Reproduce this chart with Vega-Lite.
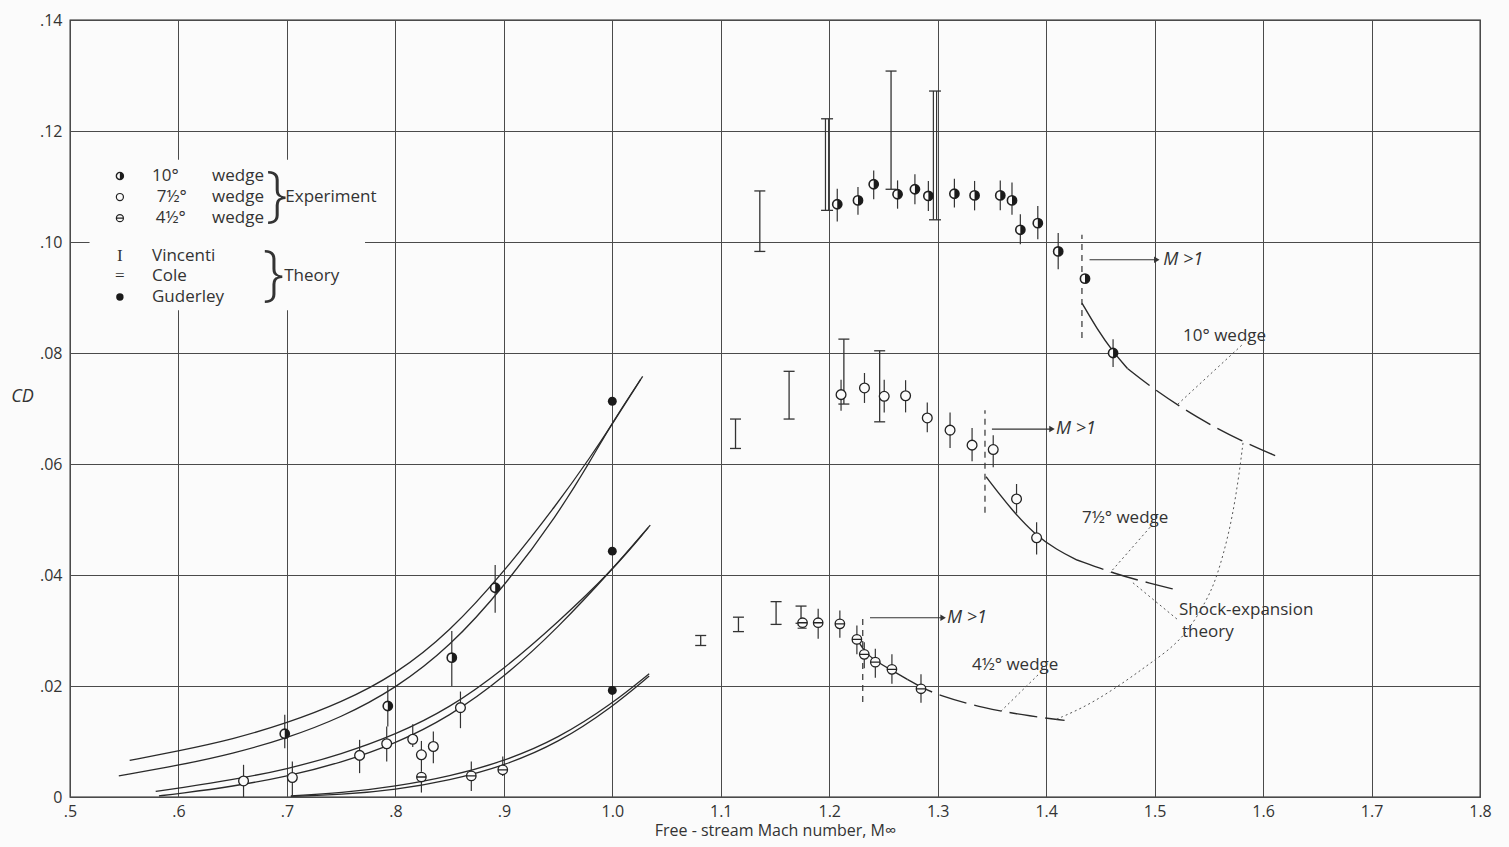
{
  "$schema": "https://vega.github.io/schema/vega-lite/v6.json",
  "width": 1410,
  "height": 777,
  "autosize": "none",
  "padding": {"left": 70, "top": 20, "right": 29, "bottom": 50},
  "background": "#fbfbfb",
  "config": {
    "view": {"stroke": "#222", "strokeWidth": 1.3},
    "font": "Open Sans",
    "axis": {
      "gridColor": "#4a4a4a", "gridWidth": 1, "gridOpacity": 1,
      "domain": false, "ticks": false,
      "labelFont": "Open Sans", "labelFontSize": 16, "labelColor": "#333",
      "titleFont": "Open Sans", "titleColor": "#333", "titleFontWeight": "normal",
      "labelFlush": false, "labelOverlap": false
    }
  },
  "datasets": {
    "legendbox": [{"x1": 0.518, "x2": 0.772, "y1": 0.0877, "y2": 0.1148}],
    "exp": [
      {"w": "10", "M": 0.698, "cd": 0.0114, "lo": 0.0088, "hi": 0.0148},
      {"w": "10", "M": 0.793, "cd": 0.0164, "lo": 0.0127, "hi": 0.0201},
      {"w": "10", "M": 0.852, "cd": 0.0251, "lo": 0.0200, "hi": 0.0299},
      {"w": "10", "M": 0.892, "cd": 0.0377, "lo": 0.0332, "hi": 0.0418},
      {"w": "10", "M": 1.2074, "cd": 0.1068, "lo": 0.1037, "hi": 0.1096},
      {"w": "10", "M": 1.2265, "cd": 0.1075, "lo": 0.1049, "hi": 0.1099},
      {"w": "10", "M": 1.2410, "cd": 0.1104, "lo": 0.1077, "hi": 0.1129},
      {"w": "10", "M": 1.2630, "cd": 0.1086, "lo": 0.1060, "hi": 0.1111},
      {"w": "10", "M": 1.2790, "cd": 0.1095, "lo": 0.1068, "hi": 0.1122},
      {"w": "10", "M": 1.2914, "cd": 0.1083, "lo": 0.1056, "hi": 0.1110},
      {"w": "10", "M": 1.3154, "cd": 0.1087, "lo": 0.1062, "hi": 0.1114},
      {"w": "10", "M": 1.3340, "cd": 0.1084, "lo": 0.1057, "hi": 0.1110},
      {"w": "10", "M": 1.3577, "cd": 0.1084, "lo": 0.1057, "hi": 0.1111},
      {"w": "10", "M": 1.3685, "cd": 0.1075, "lo": 0.1049, "hi": 0.1107},
      {"w": "10", "M": 1.3762, "cd": 0.1022, "lo": 0.0996, "hi": 0.1050},
      {"w": "10", "M": 1.3923, "cd": 0.1034, "lo": 0.1005, "hi": 0.1065},
      {"w": "10", "M": 1.4111, "cd": 0.0983, "lo": 0.0951, "hi": 0.1016},
      {"w": "10", "M": 1.4358, "cd": 0.0934, "lo": null, "hi": null},
      {"w": "10", "M": 1.4617, "cd": 0.0800, "lo": 0.0775, "hi": 0.0825},
      {"w": "7.5", "M": 0.660, "cd": 0.0029, "lo": 0.0, "hi": 0.0058},
      {"w": "7.5", "M": 0.705, "cd": 0.0035, "lo": 0.0, "hi": 0.0064},
      {"w": "7.5", "M": 0.767, "cd": 0.0075, "lo": 0.0043, "hi": 0.0103},
      {"w": "7.5", "M": 0.792, "cd": 0.0096, "lo": 0.0064, "hi": 0.0127},
      {"w": "7.5", "M": 0.816, "cd": 0.0104, "lo": 0.0090, "hi": 0.0131},
      {"w": "7.5", "M": 0.824, "cd": 0.0076, "lo": 0.0046, "hi": 0.0101},
      {"w": "7.5", "M": 0.835, "cd": 0.0091, "lo": 0.0061, "hi": 0.0118},
      {"w": "7.5", "M": 0.860, "cd": 0.0161, "lo": 0.0124, "hi": 0.0190},
      {"w": "7.5", "M": 1.2109, "cd": 0.0725, "lo": 0.0696, "hi": 0.0752},
      {"w": "7.5", "M": 1.2325, "cd": 0.0737, "lo": 0.0710, "hi": 0.0764},
      {"w": "7.5", "M": 1.2507, "cd": 0.0722, "lo": 0.0693, "hi": 0.0752},
      {"w": "7.5", "M": 1.2704, "cd": 0.0723, "lo": 0.0693, "hi": 0.0751},
      {"w": "7.5", "M": 1.2904, "cd": 0.0683, "lo": 0.0657, "hi": 0.0711},
      {"w": "7.5", "M": 1.3114, "cd": 0.0661, "lo": 0.0629, "hi": 0.0693},
      {"w": "7.5", "M": 1.3317, "cd": 0.0634, "lo": 0.0605, "hi": 0.0665},
      {"w": "7.5", "M": 1.3512, "cd": 0.0626, "lo": 0.0594, "hi": 0.0652},
      {"w": "7.5", "M": 1.3727, "cd": 0.0537, "lo": 0.0511, "hi": 0.0564},
      {"w": "7.5", "M": 1.3912, "cd": 0.0467, "lo": 0.0437, "hi": 0.0495},
      {"w": "4.5", "M": 0.824, "cd": 0.0036, "lo": 0.0008, "hi": 0.0046},
      {"w": "4.5", "M": 0.870, "cd": 0.0038, "lo": 0.0011, "hi": 0.0064},
      {"w": "4.5", "M": 0.899, "cd": 0.0049, "lo": 0.0038, "hi": 0.0073},
      {"w": "4.5", "M": 1.1754, "cd": 0.0314, "lo": null, "hi": null},
      {"w": "4.5", "M": 1.1898, "cd": 0.0314, "lo": 0.0285, "hi": 0.0339},
      {"w": "4.5", "M": 1.2098, "cd": 0.0312, "lo": 0.0287, "hi": 0.0336},
      {"w": "4.5", "M": 1.2255, "cd": 0.0284, "lo": 0.0257, "hi": 0.0309},
      {"w": "4.5", "M": 1.2323, "cd": 0.0257, "lo": 0.0232, "hi": 0.0279},
      {"w": "4.5", "M": 1.2425, "cd": 0.0243, "lo": 0.0215, "hi": 0.0267},
      {"w": "4.5", "M": 1.2578, "cd": 0.0230, "lo": 0.0204, "hi": 0.0257},
      {"w": "4.5", "M": 1.2846, "cd": 0.0195, "lo": 0.0170, "hi": 0.0221}
    ],
    "gud": [{"M": 1.0, "cd": 0.0713}, {"M": 1.0, "cd": 0.0443}, {"M": 1.0, "cd": 0.0192}],
    "vin": [
      {"M": 1.136, "lo": 0.0983, "hi": 0.1092},
      {"M": 1.257, "lo": 0.1095, "hi": 0.1308},
      {"M": 1.1136, "lo": 0.0628, "hi": 0.0681},
      {"M": 1.163, "lo": 0.0681, "hi": 0.0767},
      {"M": 1.2135, "lo": 0.0708, "hi": 0.0825},
      {"M": 1.2465, "lo": 0.0676, "hi": 0.0804},
      {"M": 1.0815, "lo": 0.0273, "hi": 0.0291},
      {"M": 1.1163, "lo": 0.0298, "hi": 0.0324},
      {"M": 1.151, "lo": 0.0311, "hi": 0.0352},
      {"M": 1.174, "lo": 0.0313, "hi": 0.0344}
    ],
    "cole": [
      {"M": 1.198, "lo": 0.1057, "hi": 0.1222},
      {"M": 1.2975, "lo": 0.1040, "hi": 0.1272}
    ],
    "colemark": [{"M": 1.175, "cd": 0.0307}],
    "curves": [
      {"id": "10a", "M": 0.555, "cd": 0.0066}, {"id": "10a", "M": 0.6, "cd": 0.0083}, {"id": "10a", "M": 0.65, "cd": 0.0104},
      {"id": "10a", "M": 0.7, "cd": 0.0133}, {"id": "10a", "M": 0.75, "cd": 0.0170}, {"id": "10a", "M": 0.8, "cd": 0.0220},
      {"id": "10a", "M": 0.85, "cd": 0.0297}, {"id": "10a", "M": 0.9, "cd": 0.0405}, {"id": "10a", "M": 0.95, "cd": 0.0530},
      {"id": "10a", "M": 0.98, "cd": 0.0613}, {"id": "10a", "M": 1.0, "cd": 0.0672}, {"id": "10a", "M": 1.026, "cd": 0.0752},
      {"id": "10b", "M": 0.545, "cd": 0.0038}, {"id": "10b", "M": 0.6, "cd": 0.0057}, {"id": "10b", "M": 0.65, "cd": 0.0078},
      {"id": "10b", "M": 0.7, "cd": 0.0106}, {"id": "10b", "M": 0.75, "cd": 0.0143}, {"id": "10b", "M": 0.8, "cd": 0.0195},
      {"id": "10b", "M": 0.85, "cd": 0.0270}, {"id": "10b", "M": 0.9, "cd": 0.0378}, {"id": "10b", "M": 0.95, "cd": 0.0510},
      {"id": "10b", "M": 0.98, "cd": 0.0606}, {"id": "10b", "M": 1.0, "cd": 0.0675}, {"id": "10b", "M": 1.028, "cd": 0.0758},
      {"id": "75a", "M": 0.579, "cd": 0.0010}, {"id": "75a", "M": 0.6, "cd": 0.0016}, {"id": "75a", "M": 0.65, "cd": 0.0031},
      {"id": "75a", "M": 0.7, "cd": 0.0050}, {"id": "75a", "M": 0.75, "cd": 0.0077}, {"id": "75a", "M": 0.8, "cd": 0.0112},
      {"id": "75a", "M": 0.85, "cd": 0.0160}, {"id": "75a", "M": 0.9, "cd": 0.0230}, {"id": "75a", "M": 0.95, "cd": 0.0315},
      {"id": "75a", "M": 1.0, "cd": 0.0408}, {"id": "75a", "M": 1.033, "cd": 0.0485},
      {"id": "75b", "M": 0.582, "cd": 0.0002}, {"id": "75b", "M": 0.6, "cd": 0.0006}, {"id": "75b", "M": 0.65, "cd": 0.0019},
      {"id": "75b", "M": 0.7, "cd": 0.0037}, {"id": "75b", "M": 0.75, "cd": 0.0062}, {"id": "75b", "M": 0.8, "cd": 0.0096},
      {"id": "75b", "M": 0.85, "cd": 0.0145}, {"id": "75b", "M": 0.9, "cd": 0.0215}, {"id": "75b", "M": 0.95, "cd": 0.0305},
      {"id": "75b", "M": 1.0, "cd": 0.0410}, {"id": "75b", "M": 1.035, "cd": 0.0490},
      {"id": "45a", "M": 0.7036, "cd": 0.0002}, {"id": "45a", "M": 0.75, "cd": 0.0007}, {"id": "45a", "M": 0.8, "cd": 0.0019},
      {"id": "45a", "M": 0.85, "cd": 0.0037}, {"id": "45a", "M": 0.9, "cd": 0.0064}, {"id": "45a", "M": 0.95, "cd": 0.0105},
      {"id": "45a", "M": 1.0, "cd": 0.0168}, {"id": "45a", "M": 1.034, "cd": 0.0222},
      {"id": "45b", "M": 0.7036, "cd": 0.0001}, {"id": "45b", "M": 0.75, "cd": 0.0004}, {"id": "45b", "M": 0.8, "cd": 0.0013},
      {"id": "45b", "M": 0.85, "cd": 0.0030}, {"id": "45b", "M": 0.9, "cd": 0.0056}, {"id": "45b", "M": 0.95, "cd": 0.0097},
      {"id": "45b", "M": 1.0, "cd": 0.0162}, {"id": "45b", "M": 1.034, "cd": 0.0218}
    ],
    "sesolid": [
      {"id": "10", "M": 1.433, "cd": 0.0890}, {"id": "10", "M": 1.447, "cd": 0.0843}, {"id": "10", "M": 1.4617, "cd": 0.0802}, {"id": "10", "M": 1.475, "cd": 0.0772},
      {"id": "75", "M": 1.3446, "cd": 0.0577}, {"id": "75", "M": 1.358, "cd": 0.0543}, {"id": "75", "M": 1.370, "cd": 0.0514}, {"id": "75", "M": 1.389, "cd": 0.0474}, {"id": "75", "M": 1.41, "cd": 0.0445}, {"id": "75", "M": 1.4285, "cd": 0.0427},
      {"id": "45", "M": 1.224, "cd": 0.0290}, {"id": "45", "M": 1.2323, "cd": 0.0262}, {"id": "45", "M": 1.2425, "cd": 0.0245}, {"id": "45", "M": 1.258, "cd": 0.0228}, {"id": "45", "M": 1.272, "cd": 0.0212}
    ],
    "sedash": [
      {"id": "10", "M": 1.475, "cd": 0.0772}, {"id": "10", "M": 1.4976, "cd": 0.0737}, {"id": "10", "M": 1.539, "cd": 0.0683}, {"id": "10", "M": 1.5815, "cd": 0.0640}, {"id": "10", "M": 1.6138, "cd": 0.0613},
      {"id": "75", "M": 1.4285, "cd": 0.0427}, {"id": "75", "M": 1.4653, "cd": 0.0401}, {"id": "75", "M": 1.49, "cd": 0.0388}, {"id": "75", "M": 1.5206, "cd": 0.0373},
      {"id": "45", "M": 1.272, "cd": 0.0212}, {"id": "45", "M": 1.2846, "cd": 0.0198}, {"id": "45", "M": 1.30, "cd": 0.0184}, {"id": "45", "M": 1.3415, "cd": 0.0160}, {"id": "45", "M": 1.3877, "cd": 0.0145}, {"id": "45", "M": 1.417, "cd": 0.0138}
    ],
    "leaders": [
      {"id": "L1", "o": 1, "M": 1.5803, "cd": 0.0814}, {"id": "L1", "o": 2, "M": 1.5204, "cd": 0.0706},
      {"id": "L2", "o": 1, "M": 1.4958, "cd": 0.0486}, {"id": "L2", "o": 2, "M": 1.4589, "cd": 0.0404},
      {"id": "L3", "o": 1, "M": 1.5815, "cd": 0.0638}, {"id": "L3", "o": 2, "M": 1.5769, "cd": 0.0566},
      {"id": "L3", "o": 3, "M": 1.5695, "cd": 0.0481}, {"id": "L3", "o": 4, "M": 1.5575, "cd": 0.0396},
      {"id": "L3", "o": 5, "M": 1.5483, "cd": 0.0355}, {"id": "L3", "o": 6, "M": 1.5262, "cd": 0.0283},
      {"id": "L3", "o": 7, "M": 1.4958, "cd": 0.0241}, {"id": "L3", "o": 8, "M": 1.4773, "cd": 0.0214},
      {"id": "L3", "o": 9, "M": 1.4404, "cd": 0.0166}, {"id": "L3", "o": 10, "M": 1.4082, "cd": 0.0139},
      {"id": "L4", "o": 1, "M": 1.480, "cd": 0.0386}, {"id": "L4", "o": 2, "M": 1.5216, "cd": 0.0319},
      {"id": "L5", "o": 1, "M": 1.3925, "cd": 0.0220}, {"id": "L5", "o": 2, "M": 1.3575, "cd": 0.0153}
    ],
    "mvert": [
      {"M": 1.433, "lo": 0.0827, "hi": 0.1013},
      {"M": 1.3436, "lo": 0.0512, "hi": 0.0697},
      {"M": 1.2309, "lo": 0.0171, "hi": 0.0328}
    ],
    "arrows": [
      {"x1": 1.440, "x2": 1.502, "cd": 0.0968, "tx": 1.508},
      {"x1": 1.350, "x2": 1.4054, "cd": 0.0663, "tx": 1.409},
      {"x1": 1.2376, "x2": 1.305, "cd": 0.0323, "tx": 1.3086}
    ],
    "labels": [
      {"text": "10°  wedge", "M": 1.5262, "cd": 0.0831},
      {"text": "7½° wedge", "M": 1.433, "cd": 0.0503},
      {"text": "4½° wedge", "M": 1.3316, "cd": 0.0238},
      {"text": "Shock-expansion", "M": 1.5225, "cd": 0.0337},
      {"text": "theory", "M": 1.5253, "cd": 0.0297}
    ],
    "legsym": [
      {"k": "10", "M": 0.546, "cd": 0.1119},
      {"k": "7.5", "M": 0.546, "cd": 0.1081},
      {"k": "4.5", "M": 0.546, "cd": 0.1043},
      {"k": "gud", "M": 0.546, "cd": 0.0901}
    ],
    "legtext": [
      {"text": "10°", "M": 0.5756, "cd": 0.1119},
      {"text": "7½°", "M": 0.5800, "cd": 0.1081},
      {"text": "4½°", "M": 0.5790, "cd": 0.1043},
      {"text": "wedge", "M": 0.631, "cd": 0.1119},
      {"text": "wedge", "M": 0.631, "cd": 0.1081},
      {"text": "wedge", "M": 0.631, "cd": 0.1043},
      {"text": "Experiment", "M": 0.6985, "cd": 0.1081},
      {"text": "Vincenti", "M": 0.5756, "cd": 0.0975},
      {"text": "Cole", "M": 0.5756, "cd": 0.0939},
      {"text": "Guderley", "M": 0.5756, "cd": 0.0901},
      {"text": "Theory", "M": 0.6975, "cd": 0.0939}
    ],
    "legglyph": [
      {"text": "I", "M": 0.546, "cd": 0.0975},
      {"text": "=", "M": 0.546, "cd": 0.0939}
    ],
    "braces": [
      {"M": 0.6905, "cd": 0.1081},
      {"M": 0.6875, "cd": 0.0939}
    ]
  },
  "layer": [
    {
      "data": {"name": "legendbox"},
      "mark": {"type": "rect", "fill": "#fbfbfb", "strokeWidth": 0},
      "encoding": {
        "x": {"field": "x1", "type": "quantitative",
          "scale": {"domain": [0.5, 1.8], "nice": false, "zero": false},
          "axis": {"values": [0.5, 0.6, 0.7, 0.8, 0.9, 1.0, 1.1, 1.2, 1.3, 1.4, 1.5, 1.6, 1.7, 1.8],
            "labelExpr": "datum.value < 0.95 ? replace(format(datum.value, '.1f'), '0.', '.') : format(datum.value, '.1f')",
            "title": "Free - stream Mach number, M∞", "titleFontSize": 16, "labelPadding": 6, "titlePadding": 3, "grid": true}},
        "x2": {"field": "x2"},
        "y": {"field": "y1", "type": "quantitative",
          "scale": {"domain": [0, 0.14], "nice": false, "zero": false},
          "axis": {"values": [0, 0.02, 0.04, 0.06, 0.08, 0.1, 0.12, 0.14],
            "labelExpr": "datum.value == 0 ? '0' : replace(format(datum.value, '.2f'), '0.', '.')",
            "title": "CD", "titleAngle": 0, "titleX": -48, "titleY": 385, "titleFontStyle": "italic", "titleFontSize": 18,
            "labelPadding": 8, "grid": true}},
        "y2": {"field": "y2"}
      }
    },
    {
      "data": {"name": "curves"},
      "mark": {"type": "line", "color": "#2a2a2a", "strokeWidth": 1.3, "interpolate": "basis"},
      "encoding": {"x": {"field": "M", "type": "quantitative"}, "y": {"field": "cd", "type": "quantitative"}, "detail": {"field": "id"}}
    },
    {
      "data": {"name": "sesolid"},
      "mark": {"type": "line", "color": "#2a2a2a", "strokeWidth": 1.4, "interpolate": "basis"},
      "encoding": {"x": {"field": "M", "type": "quantitative"}, "y": {"field": "cd", "type": "quantitative"}, "detail": {"field": "id"}}
    },
    {
      "data": {"name": "sedash"},
      "mark": {"type": "line", "color": "#2a2a2a", "strokeWidth": 1.4, "interpolate": "basis", "strokeDash": [28, 8]},
      "encoding": {"x": {"field": "M", "type": "quantitative"}, "y": {"field": "cd", "type": "quantitative"}, "detail": {"field": "id"}}
    },
    {
      "data": {"name": "leaders"},
      "mark": {"type": "line", "color": "#555", "strokeWidth": 1, "interpolate": "basis", "strokeDash": [2, 3]},
      "encoding": {"x": {"field": "M", "type": "quantitative"}, "y": {"field": "cd", "type": "quantitative"}, "detail": {"field": "id"}, "order": {"field": "o"}}
    },
    {
      "data": {"name": "mvert"},
      "mark": {"type": "rule", "color": "#333", "strokeWidth": 1.2, "strokeDash": [6, 5]},
      "encoding": {"x": {"field": "M", "type": "quantitative"}, "y": {"field": "lo", "type": "quantitative"}, "y2": {"field": "hi"}}
    },
    {
      "data": {"name": "arrows"},
      "mark": {"type": "rule", "color": "#333", "strokeWidth": 1.2},
      "encoding": {"x": {"field": "x1", "type": "quantitative"}, "x2": {"field": "x2"}, "y": {"field": "cd", "type": "quantitative"}}
    },
    {
      "data": {"name": "arrows"},
      "mark": {"type": "point", "shape": "triangle-right", "filled": true, "color": "#333", "size": 40, "opacity": 1},
      "encoding": {"x": {"field": "x2", "type": "quantitative"}, "y": {"field": "cd", "type": "quantitative"}}
    },
    {
      "data": {"name": "arrows"},
      "mark": {"type": "text", "text": "M >1", "align": "left", "baseline": "middle", "fontSize": 18, "fontStyle": "italic", "color": "#333"},
      "encoding": {"x": {"field": "tx", "type": "quantitative"}, "y": {"field": "cd", "type": "quantitative"}}
    },
    {
      "data": {"name": "exp"},
      "mark": {"type": "rule", "color": "#333", "strokeWidth": 1.2},
      "encoding": {"x": {"field": "M", "type": "quantitative"}, "y": {"field": "lo", "type": "quantitative"}, "y2": {"field": "hi"}}
    },
    {
      "data": {"name": "vin"},
      "mark": {"type": "rule", "color": "#333", "strokeWidth": 1.3},
      "encoding": {"x": {"field": "M", "type": "quantitative"}, "y": {"field": "lo", "type": "quantitative"}, "y2": {"field": "hi"}}
    },
    {
      "data": {"name": "vin"},
      "mark": {"type": "tick", "orient": "horizontal", "color": "#333", "size": 11, "thickness": 1.3, "opacity": 1},
      "encoding": {"x": {"field": "M", "type": "quantitative"}, "y": {"field": "lo", "type": "quantitative"}}
    },
    {
      "data": {"name": "vin"},
      "mark": {"type": "tick", "orient": "horizontal", "color": "#333", "size": 11, "thickness": 1.3, "opacity": 1},
      "encoding": {"x": {"field": "M", "type": "quantitative"}, "y": {"field": "hi", "type": "quantitative"}}
    },
    {
      "data": {"name": "cole"},
      "mark": {"type": "rule", "color": "#333", "strokeWidth": 1.2, "xOffset": -1.6},
      "encoding": {"x": {"field": "M", "type": "quantitative"}, "y": {"field": "lo", "type": "quantitative"}, "y2": {"field": "hi"}}
    },
    {
      "data": {"name": "cole"},
      "mark": {"type": "rule", "color": "#333", "strokeWidth": 1.2, "xOffset": 1.6},
      "encoding": {"x": {"field": "M", "type": "quantitative"}, "y": {"field": "lo", "type": "quantitative"}, "y2": {"field": "hi"}}
    },
    {
      "data": {"name": "cole"},
      "mark": {"type": "tick", "orient": "horizontal", "color": "#333", "size": 12, "thickness": 1.3, "opacity": 1},
      "encoding": {"x": {"field": "M", "type": "quantitative"}, "y": {"field": "lo", "type": "quantitative"}}
    },
    {
      "data": {"name": "cole"},
      "mark": {"type": "tick", "orient": "horizontal", "color": "#333", "size": 12, "thickness": 1.3, "opacity": 1},
      "encoding": {"x": {"field": "M", "type": "quantitative"}, "y": {"field": "hi", "type": "quantitative"}}
    },
    {
      "data": {"name": "colemark"},
      "mark": {"type": "tick", "orient": "horizontal", "color": "#333", "size": 9, "thickness": 1.1, "opacity": 1, "yOffset": -1.6},
      "encoding": {"x": {"field": "M", "type": "quantitative"}, "y": {"field": "cd", "type": "quantitative"}}
    },
    {
      "data": {"name": "colemark"},
      "mark": {"type": "tick", "orient": "horizontal", "color": "#333", "size": 9, "thickness": 1.1, "opacity": 1, "yOffset": 1.6},
      "encoding": {"x": {"field": "M", "type": "quantitative"}, "y": {"field": "cd", "type": "quantitative"}}
    },
    {
      "data": {"name": "exp"},
      "transform": [{"filter": "datum.w == '10'"}],
      "mark": {"type": "point", "shape": "circle", "filled": false, "fill": "#fbfbfb", "fillOpacity": 1, "stroke": "#222", "strokeWidth": 1.6, "size": 85, "opacity": 1},
      "encoding": {"x": {"field": "M", "type": "quantitative"}, "y": {"field": "cd", "type": "quantitative"}}
    },
    {
      "data": {"name": "exp"},
      "transform": [{"filter": "datum.w == '10'"}],
      "mark": {"type": "point", "shape": "M0,-1A1,1 0 0,1 0,1Z", "filled": true, "color": "#1a1a1a", "size": 85, "opacity": 1},
      "encoding": {"x": {"field": "M", "type": "quantitative"}, "y": {"field": "cd", "type": "quantitative"}}
    },
    {
      "data": {"name": "exp"},
      "transform": [{"filter": "datum.w == '7.5'"}],
      "mark": {"type": "point", "shape": "circle", "filled": false, "fill": "#fbfbfb", "fillOpacity": 1, "stroke": "#222", "strokeWidth": 1.3, "size": 95, "opacity": 1},
      "encoding": {"x": {"field": "M", "type": "quantitative"}, "y": {"field": "cd", "type": "quantitative"}}
    },
    {
      "data": {"name": "exp"},
      "transform": [{"filter": "datum.w == '4.5'"}],
      "mark": {"type": "point", "shape": "M-1,0A1,1 0 1,1 1,0A1,1 0 1,1 -1,0ZM-1,0L1,0", "filled": false, "fill": "#fbfbfb", "fillOpacity": 1, "stroke": "#222", "strokeWidth": 1.3, "size": 90, "opacity": 1},
      "encoding": {"x": {"field": "M", "type": "quantitative"}, "y": {"field": "cd", "type": "quantitative"}}
    },
    {
      "data": {"name": "gud"},
      "mark": {"type": "point", "shape": "circle", "filled": true, "color": "#1a1a1a", "size": 80, "opacity": 1},
      "encoding": {"x": {"field": "M", "type": "quantitative"}, "y": {"field": "cd", "type": "quantitative"}}
    },
    {
      "data": {"name": "labels"},
      "mark": {"type": "text", "align": "left", "baseline": "middle", "fontSize": 17, "color": "#333"},
      "encoding": {"x": {"field": "M", "type": "quantitative"}, "y": {"field": "cd", "type": "quantitative"}, "text": {"field": "text"}}
    },
    {
      "data": {"name": "legsym"},
      "transform": [{"filter": "datum.k == '10'"}],
      "mark": {"type": "point", "shape": "circle", "filled": false, "fill": "#fbfbfb", "fillOpacity": 1, "stroke": "#222", "strokeWidth": 1.4, "size": 50, "opacity": 1},
      "encoding": {"x": {"field": "M", "type": "quantitative"}, "y": {"field": "cd", "type": "quantitative"}}
    },
    {
      "data": {"name": "legsym"},
      "transform": [{"filter": "datum.k == '10'"}],
      "mark": {"type": "point", "shape": "M0,-1A1,1 0 0,1 0,1Z", "filled": true, "color": "#1a1a1a", "size": 50, "opacity": 1},
      "encoding": {"x": {"field": "M", "type": "quantitative"}, "y": {"field": "cd", "type": "quantitative"}}
    },
    {
      "data": {"name": "legsym"},
      "transform": [{"filter": "datum.k == '7.5'"}],
      "mark": {"type": "point", "shape": "circle", "filled": false, "stroke": "#222", "strokeWidth": 1.2, "size": 50, "opacity": 1},
      "encoding": {"x": {"field": "M", "type": "quantitative"}, "y": {"field": "cd", "type": "quantitative"}}
    },
    {
      "data": {"name": "legsym"},
      "transform": [{"filter": "datum.k == '4.5'"}],
      "mark": {"type": "point", "shape": "M-1,0A1,1 0 1,1 1,0A1,1 0 1,1 -1,0ZM-1,0L1,0", "filled": false, "stroke": "#222", "strokeWidth": 1.2, "size": 50, "opacity": 1},
      "encoding": {"x": {"field": "M", "type": "quantitative"}, "y": {"field": "cd", "type": "quantitative"}}
    },
    {
      "data": {"name": "legsym"},
      "transform": [{"filter": "datum.k == 'gud'"}],
      "mark": {"type": "point", "shape": "circle", "filled": true, "color": "#1a1a1a", "size": 55, "opacity": 1},
      "encoding": {"x": {"field": "M", "type": "quantitative"}, "y": {"field": "cd", "type": "quantitative"}}
    },
    {
      "data": {"name": "legglyph"},
      "mark": {"type": "text", "align": "center", "baseline": "middle", "fontSize": 17, "font": "Liberation Serif", "color": "#333"},
      "encoding": {"x": {"field": "M", "type": "quantitative"}, "y": {"field": "cd", "type": "quantitative"}, "text": {"field": "text"}}
    },
    {
      "data": {"name": "legtext"},
      "mark": {"type": "text", "align": "left", "baseline": "middle", "fontSize": 17, "color": "#333"},
      "encoding": {"x": {"field": "M", "type": "quantitative"}, "y": {"field": "cd", "type": "quantitative"}, "text": {"field": "text"}}
    },
    {
      "data": {"name": "braces"},
      "mark": {"type": "text", "text": "}", "align": "center", "baseline": "middle", "fontSize": 60, "fontWeight": 300, "font": "Open Sans", "color": "#333"},
      "encoding": {"x": {"field": "M", "type": "quantitative"}, "y": {"field": "cd", "type": "quantitative"}}
    }
  ]
}
